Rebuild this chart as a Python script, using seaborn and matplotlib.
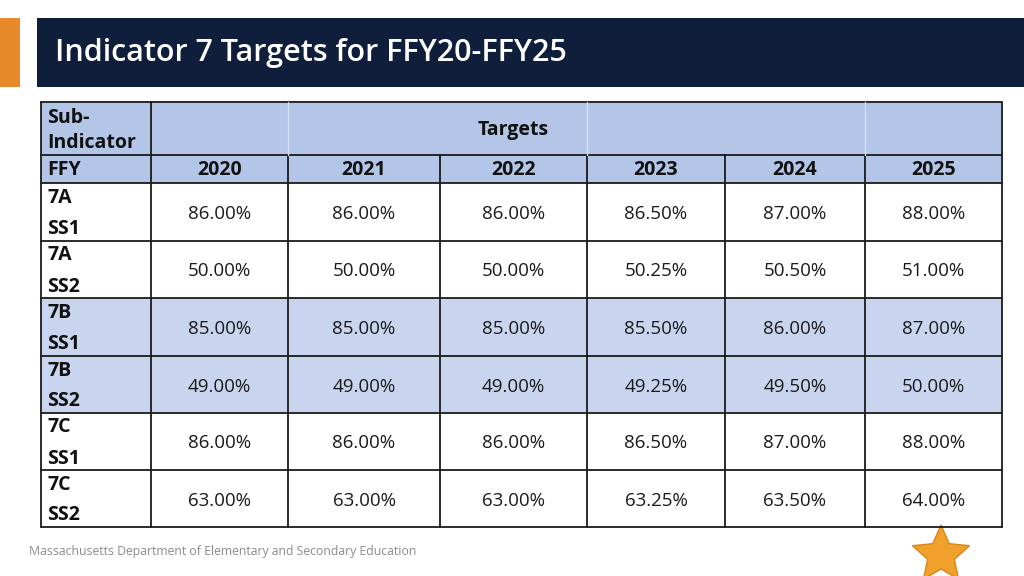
import matplotlib
matplotlib.use("Agg")
import matplotlib.pyplot as plt
import seaborn as sns
from matplotlib.patches import Rectangle
import numpy as np

# ------------------------------------------------------------
# data
# ------------------------------------------------------------
title = "Indicator 7 Targets for FFY20-FFY25"
footer = "Massachusetts Department of Elementary and Secondary Education"
years = ["2020", "2021", "2022", "2023", "2024", "2025"]
indicators = ["7A", "7A", "7B", "7B", "7C", "7C"]
outcomes = ["SS1", "SS2", "SS1", "SS2", "SS1", "SS2"]
targets_7a_ss1 = [86.00, 86.00, 86.00, 86.50, 87.00, 88.00]
targets_7a_ss2 = [50.00, 50.00, 50.00, 50.25, 50.50, 51.00]
targets_7b_ss1 = [85.00, 85.00, 85.00, 85.50, 86.00, 87.00]
targets_7b_ss2 = [49.00, 49.00, 49.00, 49.25, 49.50, 50.00]
targets_7c_ss1 = [86.00, 86.00, 86.00, 86.50, 87.00, 88.00]
targets_7c_ss2 = [63.00, 63.00, 63.00, 63.25, 63.50, 64.00]
targets = [targets_7a_ss1, targets_7a_ss2, targets_7b_ss1,
           targets_7b_ss2, targets_7c_ss1, targets_7c_ss2]

# ------------------------------------------------------------
# layout (pixel space of a 1024x576 slide)
# ------------------------------------------------------------
sns.set_theme(style="white")
plt.rcParams['font.family'] = ['Open Sans', 'DejaVu Sans']

col_x = [41, 151, 288, 440, 587, 725, 865, 1002]
row_y = [102, 155, 183, 241, 298, 356, 413, 470, 527]
header_fill = "#B4C6E7"
band_fill = "#C9D5EE"
navy = "#0F1E3A"
orange = "#E8892A"
ink = "#111111"
bold_size = 14
value_size = 13.5

fig = plt.figure(figsize=(10.24, 5.76), dpi=100)
ax = fig.add_axes([0, 0, 1, 1])
ax.set_xlim(0, 1024)
ax.set_ylim(576, 0)
ax.axis("off")

# title bar
ax.add_patch(Rectangle((0, 18), 20, 69, color=orange, lw=0))
ax.add_patch(Rectangle((37, 18), 987, 69, color=navy, lw=0))
ax.text(55, 53, title, color="white", fontsize=22, fontweight="semibold", va="center", ha="left")

# cell fills
ax.add_patch(Rectangle((col_x[0], row_y[0]), col_x[-1] - col_x[0], row_y[2] - row_y[0],
                       color=header_fill, lw=0))
for i, ind in enumerate(indicators):
    if ind == "7B":
        ax.add_patch(Rectangle((col_x[0], row_y[i + 2]), col_x[-1] - col_x[0],
                               row_y[i + 3] - row_y[i + 2], color=band_fill, lw=0))

# grid lines
lw = 1.3
for y in row_y:
    ax.plot([col_x[0], col_x[-1]], [y, y], color="#1a1a1a", lw=lw)
for j, x in enumerate(col_x):
    if j in (0, 1, len(col_x) - 1):
        ax.plot([x, x], [row_y[0], row_y[-1]], color="#1a1a1a", lw=lw)
    else:
        ax.plot([x, x], [row_y[1], row_y[-1]], color="#1a1a1a", lw=lw)
        if j in (2, 4, 6):
            ax.plot([x, x], [row_y[0], row_y[1]], color="#D6E0F2", lw=1.0)

# header text
ax.text(47, 118, "Sub-", fontsize=bold_size, fontweight="bold", va="center", ha="left", color=ink)
ax.text(47, 143, "Indicator", fontsize=bold_size, fontweight="bold", va="center", ha="left", color=ink)
ax.text((col_x[3] + col_x[4]) / 2, (row_y[0] + row_y[1]) / 2 + 1, "Targets",
        fontsize=bold_size, fontweight="bold", va="center", ha="center", color=ink)
ax.text(47, (row_y[1] + row_y[2]) / 2 + 1, "FFY", fontsize=bold_size, fontweight="bold",
        va="center", ha="left", color=ink)
for j, yr in enumerate(years):
    ax.text((col_x[j + 1] + col_x[j + 2]) / 2, (row_y[1] + row_y[2]) / 2 + 1, yr,
            fontsize=bold_size, fontweight="bold", va="center", ha="center", color=ink)

# body
for i, (ind, out, vals) in enumerate(zip(indicators, outcomes, targets)):
    mid = (row_y[i + 2] + row_y[i + 3]) / 2
    ax.text(47, mid - 14, ind, fontsize=bold_size, fontweight="bold", va="center", ha="left", color=ink)
    ax.text(47, mid + 17, out, fontsize=bold_size, fontweight="bold", va="center", ha="left", color=ink)
    for j, v in enumerate(vals):
        ax.text((col_x[j + 1] + col_x[j + 2]) / 2, mid + 2, f"{v:.2f}%",
                fontsize=value_size, va="center", ha="center", color="#1a1a1a")

# footer + star
ax.text(29, 552, footer, fontsize=8.8, color="#8C8C8C", va="center", ha="left")
theta = np.linspace(0, 2 * np.pi, 11)[:-1] - np.pi / 2
r = np.where(np.arange(10) % 2 == 0, 30, 14)
sx = 941 + r * np.cos(theta)
sy = 555 + r * np.sin(theta)
ax.fill(sx, sy, color="#F0A12C", ec="#D9861C", lw=1)

fig.savefig("out.png", dpi=100, facecolor="white")
